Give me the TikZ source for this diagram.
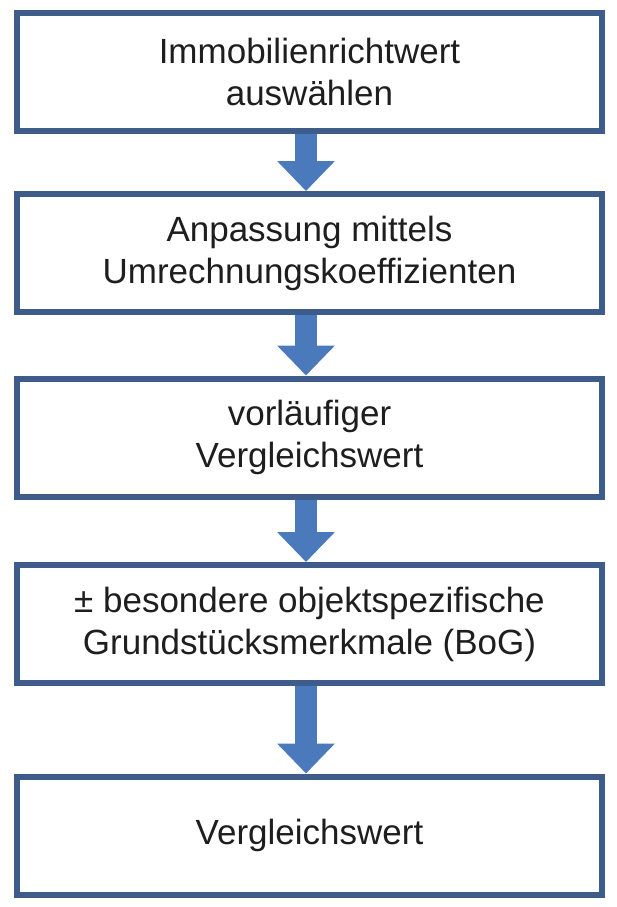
\documentclass[tikz,border=0pt]{standalone}
\usepackage{fontspec}
\setmainfont{Liberation Sans}
\usetikzlibrary{arrows.meta}
\definecolor{boxblue}{RGB}{62,92,138}
\definecolor{arrowblue}{RGB}{74,122,188}
\definecolor{textgray}{RGB}{30,30,30}

\begin{document}
\begin{tikzpicture}[x=0.5pt,y=-0.5pt,
    stepbox/.style={draw=boxblue, line width=3pt, fill=white, minimum width=292.5pt, minimum height=59pt,
        inner sep=0pt, align=center, text=textgray, font=\fontsize{17.5}{21}\selectfont},
    flowarrow/.style={draw=arrowblue, line width=11pt, -{Triangle[length=15pt,width=28pt]}}]
    % Frame
    \useasboundingbox (0,0) rectangle (617,907);

    % Steps
    \node[stepbox] (auswahl) at (309.5,71.5) {Immobilienrichtwert\\auswählen};
    \node[stepbox] (anpassung) at (309.5,253) {Anpassung mittels\\Umrechnungskoeffizienten};
    \node[stepbox] (vorlaeufig) at (309.5,437.5) {vorläufiger\\Vergleichswert};
    \node[stepbox] (bog) at (309.5,624) {± besondere objektspezifische\\Grundstücksmerkmale (BoG)};
    \node[stepbox] (ergebnis) at (309.5,835.5) {Vergleichswert};

    % Arrows
    \foreach \from/\to in {auswahl/anpassung, anpassung/vorlaeufig, vorlaeufig/bog, bog/ergebnis}
        \draw[flowarrow] ([xshift=-1.75pt]\from.south) -- ([xshift=-1.75pt]\to.north);
\end{tikzpicture}
\end{document}
